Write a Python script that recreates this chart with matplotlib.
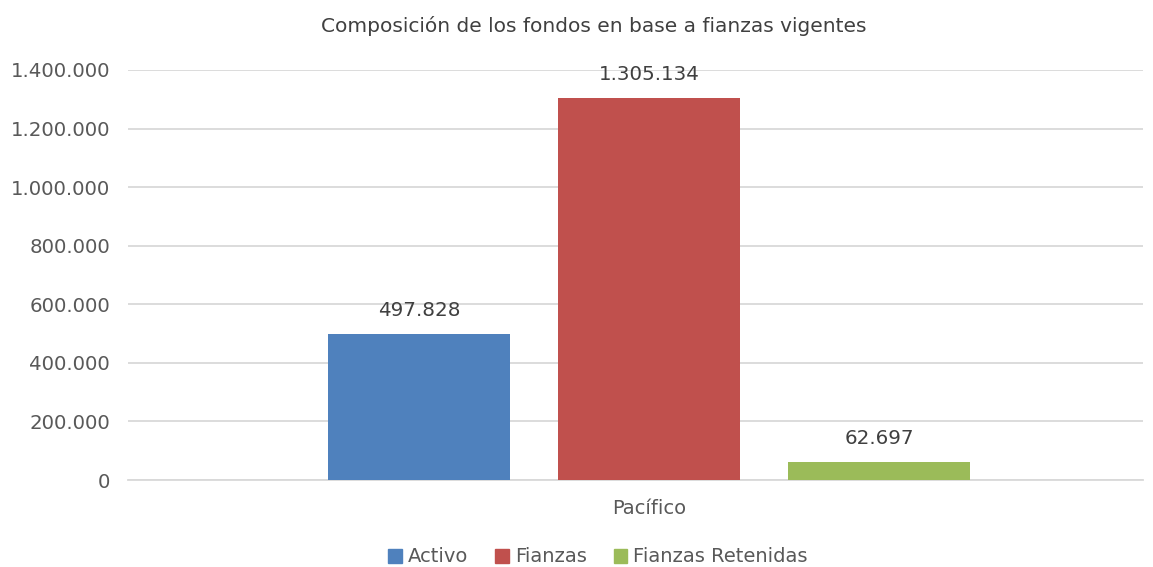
import matplotlib
matplotlib.use("Agg")
import matplotlib.pyplot as plt
from matplotlib.patches import Patch

title = "Composición de los fondos en base a fianzas vigentes"
category = "Pacífico"
series = ["Activo", "Fianzas", "Fianzas Retenidas"]
values = [497828, 1305134, 62697]
colors = ["#4F81BD", "#C0504D", "#9BBB59"]
yticks = [0, 200000, 400000, 600000, 800000, 1000000, 1200000, 1400000]

def fmt(v):
    return f"{v:,.0f}".replace(",", ".")

plt.rcParams['font.family'] = ['DejaVu Sans']
fig = plt.figure(figsize=(11.53, 5.67), dpi=100)
ax = fig.add_axes([128/1153, 1-480/567, (1143-128)/1153, (480-70)/567])

offsets = [-1, 0, 1]
w = 182/230
for off, v, c, s in zip(offsets, values, colors, series):
    ax.bar(off, v, width=w, color=c, label=s, zorder=3)
    ax.annotate(fmt(v), (off, v), xytext=(0, 10), textcoords="offset points",
                ha="center", va="bottom", fontsize=14.3, color="#404040")

ax.set_xlim(-2.265, 2.148)
ax.set_ylim(0, 1400000)
ax.set_yticks(yticks)
ax.set_yticklabels([fmt(t) for t in yticks], fontsize=14.2, color="#595959")
ax.set_xticks([0])
ax.set_xticklabels([category], fontsize=14, color="#595959")
ax.tick_params(axis="both", length=0)
ax.tick_params(axis="y", pad=13)
ax.tick_params(axis="x", pad=14)
ax.grid(axis="y", color="#D9D9D9", linewidth=1.3, zorder=0)
for sp in ["top", "right", "left"]:
    ax.spines[sp].set_visible(False)
ax.spines["bottom"].set_color("#D9D9D9")
ax.spines["bottom"].set_linewidth(1.3)

fig.text(594/1153, 1-26/567, title, ha="center", va="center", fontsize=14.5, color="#404040")

handles = [Patch(color=c, label=s) for c, s in zip(colors, series)]
fig.legend(handles=handles, loc="center", bbox_to_anchor=(598/1153, 1-557/567), ncol=3,
           frameon=False, fontsize=14, labelcolor="#595959", handlelength=0.7,
           handleheight=0.7, handletextpad=0.3, columnspacing=1.4)

fig.savefig("out.png", dpi=100)
